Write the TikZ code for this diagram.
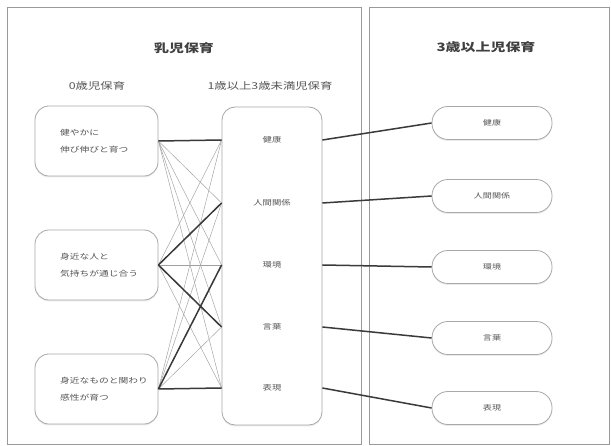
\documentclass[tikz,border=0pt]{standalone}
\usepackage{fontspec}
\newfontfamily\jp[FakeStretch=1.3]{Noto Sans CJK JP}
\usetikzlibrary{shadows,calc}
\definecolor{txt}{HTML}{555555}
\definecolor{frame}{HTML}{9A9A9A}
\definecolor{boxline}{HTML}{A8A8A8}
\definecolor{thin}{HTML}{A0A0A0}
\definecolor{thick}{HTML}{3A3A3A}
\begin{document}
\begin{tikzpicture}[x=1pt,y=-1pt,
  every node/.style={font=\jp, text=txt},
  panel/.style={draw=frame, line width=1pt},
  title/.style={font=\jp\bfseries\fontsize{11.5}{13}\selectfont, text=black!75},
  subtitle/.style={font=\jp\fontsize{9.5}{11}\selectfont, text=txt},
  zerobox/.style={draw=boxline, line width=0.8pt, fill=white, rounded corners=14pt,
    minimum width=123pt, minimum height=70pt,
    drop shadow={shadow xshift=0pt, shadow yshift=-1.5pt, fill=gray!30}},
  midbox/.style={draw=boxline, line width=0.8pt, fill=white, rounded corners=13pt,
    minimum width=100pt, minimum height=318pt,
    drop shadow={shadow xshift=0pt, shadow yshift=-1.5pt, fill=gray!30}},
  pill/.style={draw=boxline, line width=0.8pt, fill=white, rounded corners=16pt,
    minimum width=120pt, minimum height=33pt,
    font=\jp\fontsize{7}{8}\selectfont,
    drop shadow={shadow xshift=0pt, shadow yshift=-1.5pt, fill=gray!30}},
  boxtext/.style={font=\jp\fontsize{7.5}{16.5}\selectfont, align=left, anchor=west},
  midlabel/.style={font=\jp\fontsize{7.2}{8}\selectfont},
  thinline/.style={draw=thin, line width=0.45pt},
  thickline/.style={draw=thick, line width=1.5pt},
  rightline/.style={draw=thick, line width=1.5pt}
]
\useasboundingbox (0,0) rectangle (611,446);
\fill[white] (0,0) rectangle (611,446);

% panels
\draw[panel] (7,8) rectangle (361,445);
\draw[panel] (369,8) rectangle (609,445);

% titles
\node[title] (t1) at (184,48) {乳児保育};
\node[title] (t2) at (486,47) {3歳以上児保育};
\node[subtitle] (s1) at (97,86) {0歳児保育};
\node[subtitle] (s2) at (270,86) {1歳以上3歳未満児保育};

% middle box
\node[midbox] (M) at (272,266) {};
\node[midlabel] (K1) at (272,140) {健康};
\node[midlabel] (K2) at (272,203) {人間関係};
\node[midlabel] (K3) at (272,265) {環境};
\node[midlabel] (K4) at (272,327) {言葉};
\node[midlabel] (K5) at (272,388) {表現};

% left boxes
\node[zerobox] (L1) at (96.5,141) {};
\node[zerobox] (L2) at (96.5,265) {};
\node[zerobox] (L3) at (96.5,389) {};
\node[boxtext] (T1) at ($(L1.west)+(22,0)$) {健やかに\\伸び伸びと育つ};
\node[boxtext] (T2) at ($(L2.west)+(22,0)$) {身近な人と\\気持ちが通じ合う};
\node[boxtext] (T3) at ($(L3.west)+(22,0)$) {身近なものと関わり\\感性が育つ};

% right pills
\node[pill] (R1) at (492,123) {健康};
\node[pill] (R2) at (492,196) {人間関係};
\node[pill] (R3) at (492,267) {環境};
\node[pill] (R4) at (492,338) {言葉};
\node[pill] (R5) at (492,408) {表現};

% thin connectors
\foreach \l in {L1,L2,L3}{
  \foreach \k in {K1,K2,K3,K4,K5}{
    \draw[thinline] (\l.east) -- (M.west |- \k);
  }
}
% thick connectors
\draw[thickline] (L1.east) -- (M.west |- K1);
\draw[thickline] (L2.east) -- (M.west |- K2);
\draw[thickline] (L2.east) -- (M.west |- K4);
\draw[thickline] (L3.east) -- (M.west |- K3);
\draw[thickline] (L3.east) -- (M.west |- K5);

% right connectors
\draw[rightline] (M.east |- K1) -- (R1.west);
\draw[rightline] (M.east |- K2) -- (R2.west);
\draw[rightline] (M.east |- K3) -- (R3.west);
\draw[rightline] (M.east |- K4) -- (R4.west);
\draw[rightline] (M.east |- K5) -- (R5.west);
\end{tikzpicture}
\end{document}
